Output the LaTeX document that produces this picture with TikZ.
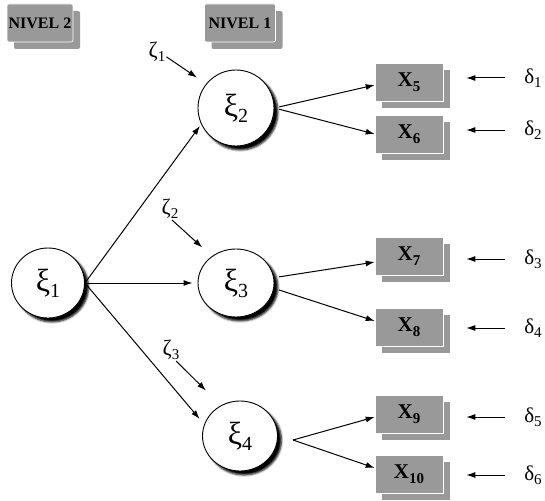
\documentclass[tikz,border=0pt]{standalone}
\usepackage{fontspec}
\setmainfont{Liberation Serif}
\usetikzlibrary{shapes.geometric, arrows.meta, positioning, shadows, shadows.blur}
\definecolor{boxgray}{HTML}{999999}

% variable labels with lowered indices
\newcommand{\xivar}[1]{{\fontsize{32}{32}\selectfont ξ\raisebox{-6pt}{\fontsize{20}{20}\selectfont #1}}}
\newcommand{\zetavar}[1]{{\fontsize{22}{22}\selectfont ζ\raisebox{-4pt}{\fontsize{15}{15}\selectfont #1}}}
\newcommand{\deltavar}[1]{{\fontsize{21}{21}\selectfont δ\raisebox{-4pt}{\fontsize{15}{15}\selectfont #1}}}
\newcommand{\obsvar}[1]{{\fontsize{21}{21}\selectfont\bfseries X\raisebox{-5pt}{\fontsize{15}{15}\selectfont #1}}}

\tikzset{
  latent/.style={ellipse, draw, line width=0.9pt, fill=white, inner sep=0pt,
    blur shadow={shadow xshift=4pt, shadow yshift=-4pt, shadow opacity=100,
      shadow blur radius=2pt, shadow blur steps=4}},
  indicator/.style={rectangle, fill=boxgray, draw=white, line width=0.6pt,
    minimum width=68pt, minimum height=38pt,
    drop shadow={shadow xshift=7pt, shadow yshift=-7pt, fill=boxgray, opacity=1}},
  levelbox/.style={indicator, rounded corners=2pt, inner sep=1pt, font=\fontsize{16}{16}\selectfont\bfseries},
  symb/.style={inner sep=1pt},
  link/.style={-{Latex[length=9pt,width=6pt]}, line width=1pt},
}

\begin{document}
\begin{tikzpicture}[x=1pt, y=-1pt]
  \useasboundingbox (0,0) rectangle (545,500);

  % Level headers
  \node[levelbox, minimum width=66pt] (niv2) at (40,23) {NIVEL 2};
  \node[levelbox, minimum width=71pt] (niv1) at (240,23) {NIVEL 1};

  % Latent factors
  \node[latent, minimum width=73pt, minimum height=70pt] (xi1) at (48,283) {\xivar{1}};
  \node[latent, minimum width=76pt, minimum height=76pt] (xi2) at (236,108) {\xivar{2}};
  \node[latent, minimum width=76pt, minimum height=68pt] (xi3) at (236,283) {\xivar{3}};
  \node[latent, minimum width=75pt, minimum height=70pt] (xi4) at (240,436) {\xivar{4}};

  % Disturbances
  \node[symb] (z1) at (157,52) {\zetavar{1}};
  \node[symb] (z2) at (170,209) {\zetavar{2}};
  \node[symb] (z3) at (171,350) {\zetavar{3}};
  \draw[link, shorten >=11pt] (z1.-27) -- (xi2.141);
  \draw[link, shorten >=13pt] (z2.-80) -- (xi3.132);
  \draw[link, shorten >=21pt] (z3.-65) -- (xi4.122);

  % Second order paths
  \draw[link, shorten >=2pt] (xi1.east) -- (xi2.205);
  \draw[link, shorten >=5pt] (xi1.east) -- (xi3.west);
  \draw[link, shorten >=7pt] (xi1.east) -- (xi4.162);

  % Indicators
  \foreach \i/\y in {5/82, 6/134, 7/256, 8/327, 9/414, 10/474} {
    \node[indicator] (x\i) at (409,\y) {\obsvar{\i}};
  }

  % Loadings
  \draw[link, shorten <=5pt] (xi2.east) -- (x5.185);
  \draw[link, shorten <=5pt] (xi2.east) -- (x6.west);
  \draw[link, shorten <=5pt] (xi3.8) -- (x7.190);
  \draw[link, shorten <=5pt] (xi3.-8) -- (x8.170);
  \coordinate (fork4) at (293,440);
  \draw[link] (fork4) -- (x9.185);
  \draw[link] (fork4) -- (x10.170);

  % Measurement errors
  \foreach \j/\i/\y in {1/5/78, 2/6/130, 3/7/259, 4/8/328, 5/9/417, 6/10/475} {
    \node[symb] (d\j) at (533,\y) {\deltavar{\j}};
    \draw[link, shorten <=18pt, shorten >=23pt] (d\j) -- (d\j -| x\i.east);
  }
\end{tikzpicture}
\end{document}
